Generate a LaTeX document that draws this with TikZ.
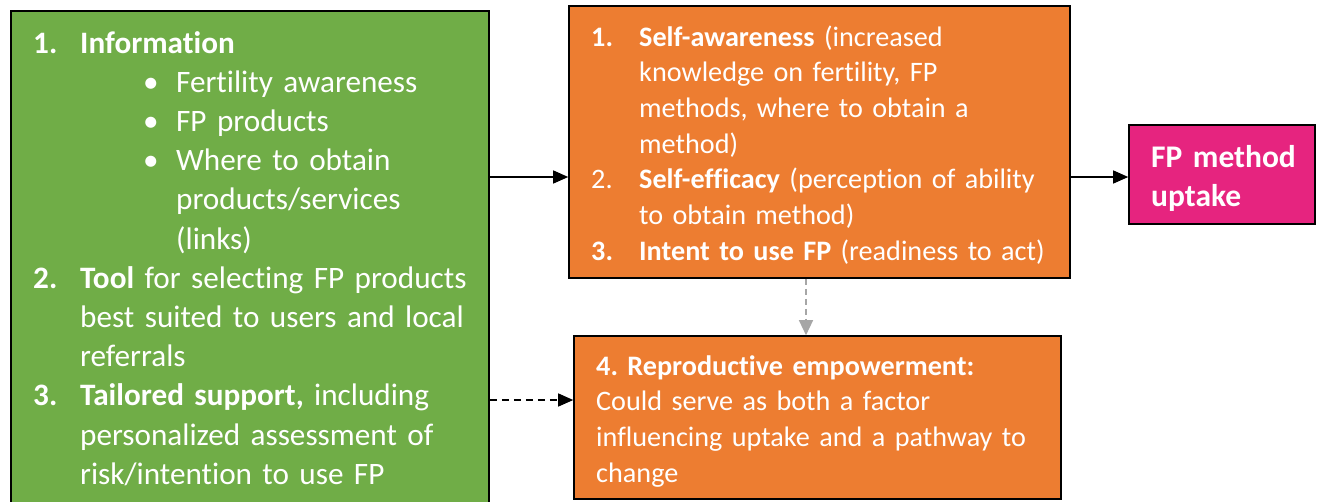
\documentclass[tikz,border=0pt]{standalone}
\usepackage{fontspec}
\setmainfont{Carlito}[Ligatures=CommonOff]
\usetikzlibrary{arrows.meta}
\definecolor{boxgreen}{HTML}{70AD47}
\definecolor{boxorange}{HTML}{ED7D31}
\definecolor{boxpink}{HTML}{E6247F}
\definecolor{linkgray}{HTML}{A6A6A6}
\frenchspacing
\newcommand{\bignum}[1]{\makebox[47pt][l]{\bfseries #1}}
\newcommand{\midnum}[1]{\makebox[48pt][l]{#1}}
\newcommand{\bulitem}{\hspace*{110pt}\makebox[33pt][l]{\textbullet}}
\begin{document}
\begin{tikzpicture}[x=1pt,y=-1pt,
  box/.style={draw=black, line width=1.6pt, rectangle, inner sep=0pt},
  body/.style={anchor=base west, inner sep=0pt, text=white, align=left, text width=#1},
  bigtext/.style={font=\fontsize{31.2}{39.2}\selectfont},
  midtext/.style={font=\fontsize{28.2}{35.7}\selectfont},
  boldtext/.style={font=\fontsize{31.5}{39}\selectfont\bfseries},
  link/.style={line width=1.3pt, draw=black, -{Triangle[length=15pt,width=13pt]}},
  softlink/.style={line width=1.3pt, draw=linkgray, dash pattern=on 6pt off 4pt,
    -{Triangle[length=15pt,width=14pt,fill=linkgray]}}
]
% canvas
\fill[white] (0,0) rectangle (1317,501);
\useasboundingbox (0,0) rectangle (1317,501);

% boxes
\node[box, fill=boxgreen, minimum width=478pt, minimum height=512pt] (green) at (250,267) {};
\node[box, fill=boxorange, minimum width=501pt, minimum height=272pt] (mech) at (819.5,142) {};
\node[box, fill=boxorange, minimum width=487pt, minimum height=163pt] (empower) at (817.5,417.5) {};
\node[box, fill=boxpink, minimum width=186pt, minimum height=99pt] (uptake) at (1222,174.5) {};

% intervention components
\node[body=470pt, bigtext] (greentext) at (33,53) {%
\bignum{1.}\textbf{Information}\\
\bulitem Fertility awareness\\
\bulitem FP products\\
\bulitem Where to obtain\\
\hspace*{143pt}products/services\\
\hspace*{143pt}(links)\\
\bignum{2.}\textbf{Tool} for selecting FP products\\
\hspace*{47pt}best suited to users and local\\
\hspace*{47pt}referrals\\
\bignum{3.}\textbf{Tailored support,} including\\
\hspace*{47pt}personalized assessment of\\
\hspace*{47pt}risk/intention to use FP};

% mechanisms
\node[body=480pt, midtext] (mechtext) at (591,46) {%
\midnum{\bfseries 1.}\textbf{Self-awareness} (increased\\
\hspace*{48pt}knowledge on fertility, FP\\
\hspace*{48pt}methods, where to obtain a\\
\hspace*{48pt}method)\\
\midnum{2.}\textbf{Self-efficacy} (perception of ability\\
\hspace*{48pt}to obtain method)\\
\midnum{\bfseries 3.}\textbf{Intent to use FP} (readiness to act)};

\node[body=470pt, midtext] (empowertext) at (596,375) {%
\textbf{4. Reproductive empowerment:}\\
Could serve as both a factor\\
influencing uptake and a pathway to\\
change};

% outcome
\node[body=170pt, boldtext] (uptaketext) at (1151,167) {%
FP method\\
uptake};

% connectors
\coordinate (row1) at (0,177);
\coordinate (row2) at (0,400);
\coordinate (col) at (806,0);
\draw[link] (green.east |- row1) -- (mech.west |- row1);
\draw[link] (mech.east |- row1) -- (uptake.west |- row1);
\draw[link, dash pattern=on 7pt off 5pt] (green.east |- row2) -- (empower.west |- row2);
\draw[softlink] (mech.south -| col) -- (empower.north -| col);
\end{tikzpicture}
\end{document}
